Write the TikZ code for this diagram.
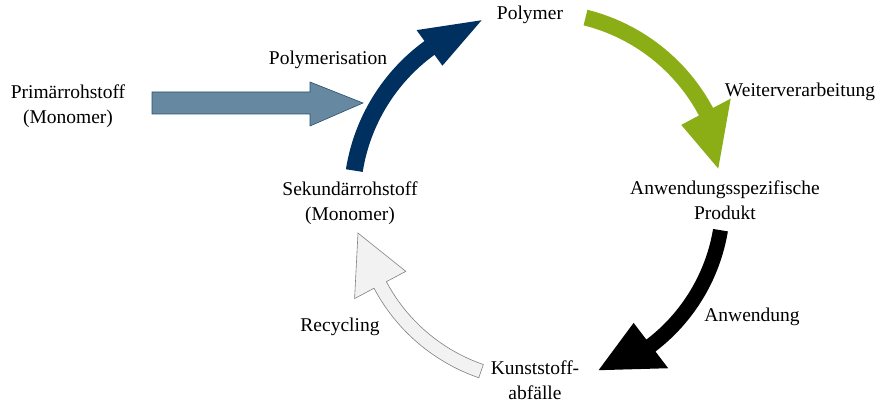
\documentclass[tikz,border=0pt]{standalone}
\usepackage{fontspec}
\setmainfont{Liberation Serif}
\definecolor{darkblue}{HTML}{003060}
\definecolor{steel}{HTML}{6688A0}
\definecolor{steeledge}{HTML}{2C4F6E}
\definecolor{leaf}{HTML}{8BAD15}
\definecolor{pale}{HTML}{F2F2F2}
\definecolor{paleedge}{HTML}{808080}
% curved block arrow: #1 radius, #2 shaft half width, #3 head half width,
% #4 tail angle, #5 head base angle, #6 tip angle, #7 tip radius
\newcommand{\curvedarrow}[7]{%
  (#4:#1pt+#2pt) arc[start angle=#4, end angle=#5, radius=#1pt+#2pt]
  -- (#5:#1pt+#3pt) -- (#6:#7pt) -- (#5:#1pt-#3pt) -- (#5:#1pt-#2pt)
  arc[start angle=#5, end angle=#4, radius=#1pt-#2pt] -- cycle}
\begin{document}
\begin{tikzpicture}[x=1pt,y=1pt,
  lbl/.style={font=\fontsize{19.5}{25}\selectfont, align=center, inner sep=0pt}]
\useasboundingbox (0,0) rectangle (895,404);
% labels
\node[lbl] (polymer) at (530,389) {Polymer};
\node[lbl] (polymerisation) at (328,344) {Polymerisation};
\node[lbl] (primaer) at (68,298) {Primärrohstoff\\(Monomer)};
\node[lbl] (sekundaer) at (350,201) {Sekundärrohstoff\\(Monomer)};
\node[lbl] (weiter) at (800,312) {Weiterverarbeitung};
\node[lbl] (produkt) at (725,204) {Anwendungsspezifische\\Produkt};
\node[lbl] (anwendung) at (752,87) {Anwendung};
\node[lbl] (abfall) at (535,24) {Kunststoff-\\abfälle};
\node[lbl] (recycling) at (340,77) {Recycling};
% straight input arrow
\draw[fill=steel, draw=steeledge, line width=0.6pt]
  (152,312) -- (310,312) -- (310,322) -- (363,301) -- (310,278) -- (310,290) -- (152,290) -- cycle;
% cycle arrows
\begin{scope}[shift={(540,204)}]
  \fill[darkblue] \curvedarrow{188}{8.5}{22}{171}{126}{108}{189};
  \fill[leaf] \curvedarrow{188}{8}{28}{76}{28}{10}{181};
  \fill[black] \curvedarrow{183}{7.5}{28.5}{-9.5}{-52.7}{-71}{180};
  \draw[fill=pale, draw=paleedge, line width=0.6pt] \curvedarrow{181}{7}{29}{251}{208}{190.3}{185};
\end{scope}
\end{tikzpicture}
\end{document}
